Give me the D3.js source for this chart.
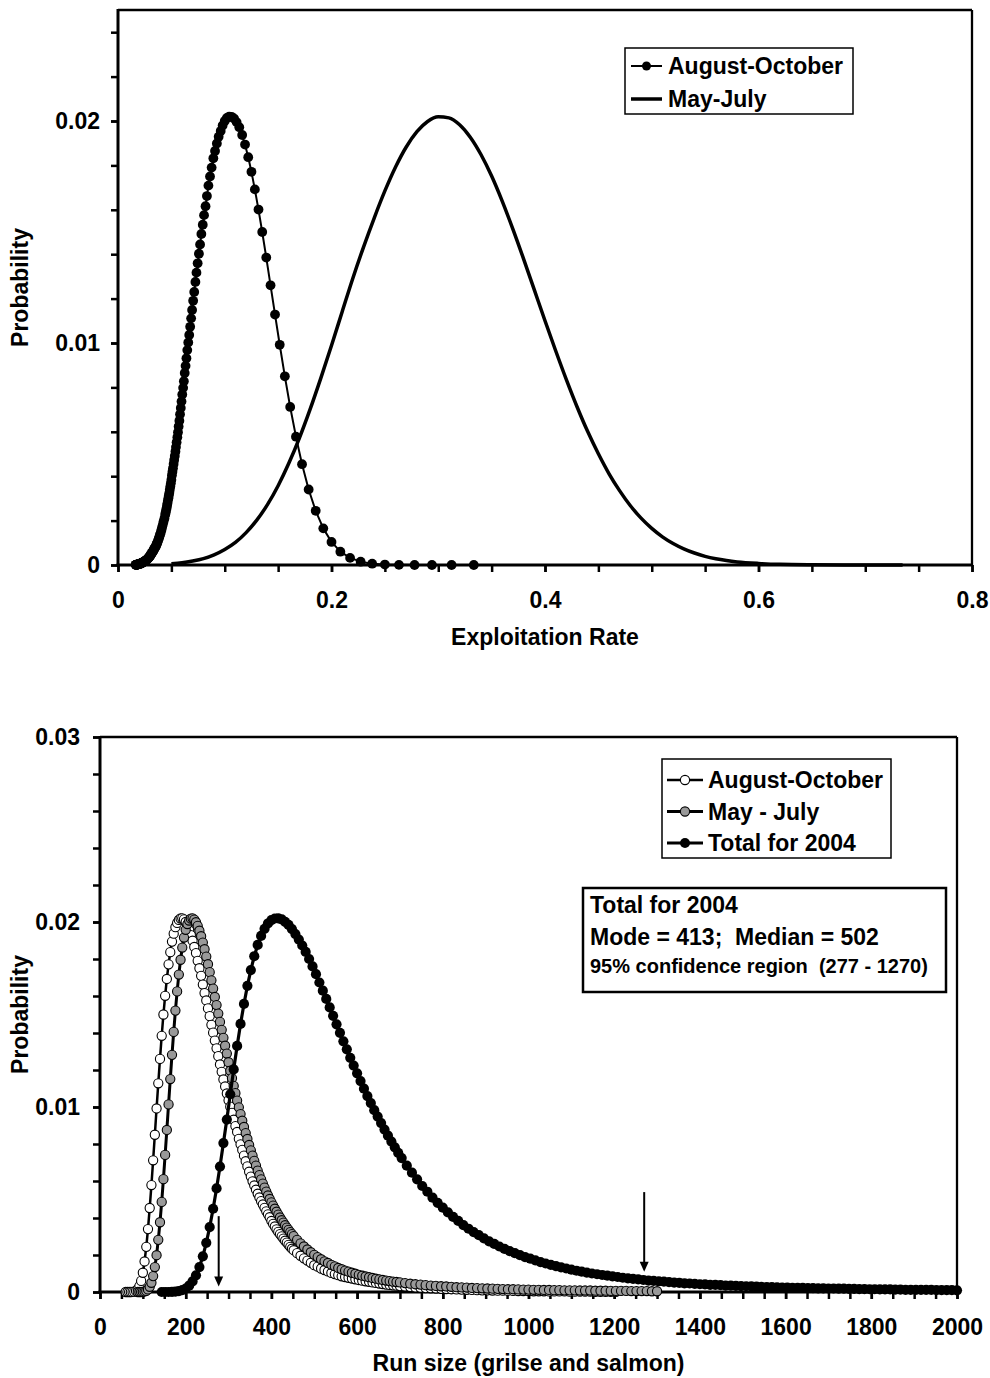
<!DOCTYPE html>
<html>
<head>
<meta charset="utf-8">
<title>Exploitation rate and run size</title>
<script src="https://cdn.jsdelivr.net/npm/d3@7"></script>
<style>
  body { margin: 0; background: #fff; }
  svg { display: block; }
  text { font-family: Arial, "Liberation Sans", Helvetica, sans-serif; font-weight: bold; fill: #000; white-space: pre; }
</style>
</head>
<body>
<svg class="charts" width="990" height="1378"></svg>
<script>
var svg = d3.select("svg.charts");

//////////// DATA ////////////

// run-size grids (the points sit on an even grid, coarser in the tail)
var aoRunSize = [].concat(d3.range(60, 453, 4), d3.range(460, 701, 8), d3.range(712, 1205, 12));
var mjRunSize = [].concat(d3.range(88, 453, 4), d3.range(460, 701, 8), d3.range(712, 1301, 12));
var totalRunSize = [].concat(d3.range(144, 705, 8), d3.range(716, 2001, 12));

// August-October probabilities (same values on both panels)
var aoProb = [
    0, 0, 0, 0, 0.000006, 0.00002, 0.00006, 0.00015, 0.00032, 0.0006,
    0.00104, 0.00165, 0.00244, 0.0034, 0.00454, 0.00578, 0.00712, 0.0085, 0.00992, 0.01128,
    0.0126, 0.01385, 0.015, 0.01601, 0.01692, 0.01771, 0.01837, 0.01894, 0.01937, 0.01972,
    0.01995, 0.02011, 0.02019, 0.0202, 0.02014, 0.02, 0.0198, 0.01955, 0.01929, 0.01899,
    0.01865, 0.01832, 0.0179, 0.0175, 0.01709, 0.01662, 0.01616, 0.01576, 0.01533, 0.01491,
    0.01444, 0.01402, 0.01359, 0.01317, 0.01275, 0.0123, 0.0119, 0.01149, 0.01111, 0.01073,
    0.01036, 0.01002, 0.00968, 0.00931, 0.00897, 0.00865, 0.00828, 0.00798, 0.00768, 0.00737,
    0.00707, 0.00679, 0.0065, 0.00624, 0.00598, 0.00576, 0.00553, 0.00531, 0.00511, 0.00491,
    0.00473, 0.00455, 0.00436, 0.0042, 0.00404, 0.00384, 0.00368, 0.00354, 0.00339, 0.00325,
    0.00313, 0.00301, 0.00289, 0.00277, 0.00267, 0.00255, 0.00244, 0.00234, 0.00226,
    0.0021, 0.00196, 0.00182, 0.0017, 0.00158, 0.00145, 0.00137, 0.00127, 0.00119, 0.00111,
    0.00103, 0.00097, 0.00091, 0.00085, 0.00081, 0.00077, 0.00073, 0.00069, 0.00065, 0.00061,
    0.00058, 0.00055, 0.00052, 0.00049, 0.00046, 0.00043, 0.0004, 0.00038, 0.00036, 0.00034,
    0.00032,
    0.0003, 0.00027, 0.00025, 0.00023, 0.00021, 0.0002, 0.00019, 0.00017, 0.00016, 0.00015,
    0.00014, 0.00013, 0.00012, 0.00011, 0.0001, 0.00009, 0.00009, 0.00008, 0.00007, 0.00007,
    0.00006, 0.00006, 0.00005, 0.00005, 0.00005, 0.00004, 0.00004, 0.00004, 0.00003, 0.00003,
    0.00003, 0.00003, 0.00002, 0.00002, 0.00002, 0.00002, 0.00002, 0.00001, 0.00001, 0.00001,
    0.00001, 0.00001
];

// August-October exploitation rate of each point (top panel x)
var aoRate = [
    0.3333, 0.3125, 0.2941, 0.2778, 0.2632, 0.25, 0.2381, 0.2273, 0.2174, 0.2083,
    0.2, 0.1923, 0.1852, 0.1786, 0.1724, 0.1667, 0.1613, 0.1563, 0.1515, 0.1471,
    0.1429, 0.1389, 0.1351, 0.1316, 0.1282, 0.125, 0.122, 0.119, 0.1163, 0.1136,
    0.1111, 0.1087, 0.1064, 0.1042, 0.102, 0.1, 0.098, 0.0962, 0.0943, 0.0926,
    0.0909, 0.0893, 0.0877, 0.0862, 0.0847, 0.0833, 0.082, 0.0806, 0.0794, 0.0781,
    0.0769, 0.0758, 0.0746, 0.0735, 0.0725, 0.0714, 0.0704, 0.0694, 0.0685, 0.0676,
    0.0667, 0.0658, 0.0649, 0.0641, 0.0633, 0.0625, 0.0617, 0.061, 0.0602, 0.0595,
    0.0588, 0.0581, 0.0575, 0.0568, 0.0562, 0.0556, 0.0549, 0.0543, 0.0538, 0.0532,
    0.0526, 0.0521, 0.0515, 0.051, 0.0505, 0.05, 0.0495, 0.049, 0.0485, 0.0481,
    0.0476, 0.0472, 0.0467, 0.0463, 0.0459, 0.0455, 0.045, 0.0446, 0.0442,
    0.0435, 0.0427, 0.042, 0.0413, 0.0407, 0.04, 0.0394, 0.0388, 0.0382, 0.0376,
    0.037, 0.0365, 0.036, 0.0355, 0.035, 0.0345, 0.034, 0.0336, 0.0331, 0.0327,
    0.0323, 0.0318, 0.0314, 0.0311, 0.0307, 0.0303, 0.0299, 0.0296, 0.0292, 0.0289,
    0.0286,
    0.0281, 0.0276, 0.0272, 0.0267, 0.0263, 0.0259, 0.0255, 0.0251, 0.0248, 0.0244,
    0.024, 0.0237, 0.0234, 0.023, 0.0227, 0.0224, 0.0221, 0.0218, 0.0216, 0.0213,
    0.021, 0.0207, 0.0205, 0.0202, 0.02, 0.0198, 0.0195, 0.0193, 0.0191, 0.0189,
    0.0187, 0.0185, 0.0182, 0.0181, 0.0179, 0.0177, 0.0175, 0.0173, 0.0171, 0.0169,
    0.0168, 0.0166
];

// May-July run size probabilities
var mjProb = [
    0, 0, 0, 0.00001, 0.00003, 0.00006, 0.00014, 0.00028, 0.0005, 0.00086,
    0.00135, 0.00199, 0.00282, 0.00377, 0.00487, 0.0061, 0.00741, 0.00876, 0.01014, 0.01151,
    0.01282, 0.01406, 0.01521, 0.01625, 0.01716, 0.01796, 0.01862, 0.01916, 0.01958, 0.01989,
    0.02008, 0.02018, 0.0202, 0.02013, 0.01999, 0.01979, 0.01953, 0.01923, 0.01889, 0.01853,
    0.01813, 0.01772, 0.01729, 0.01685, 0.0164, 0.01595, 0.01551, 0.01505, 0.0146, 0.01417,
    0.01374, 0.01331, 0.01289, 0.01242, 0.01196, 0.01156, 0.01114, 0.01075, 0.01035, 0.00998,
    0.00962, 0.00926, 0.00892, 0.00859, 0.00827, 0.00795, 0.00766, 0.00737, 0.00709, 0.00683,
    0.00656, 0.00632, 0.00609, 0.00586, 0.00564, 0.00543, 0.00522, 0.00503, 0.00485, 0.00467,
    0.0045, 0.00434, 0.00418, 0.00403, 0.00388, 0.00375, 0.00361, 0.00348, 0.00336, 0.00324,
    0.00313, 0.00302,
    0.00282, 0.00263, 0.00246, 0.0023, 0.00215, 0.00201, 0.00189, 0.00177, 0.00166, 0.00157,
    0.00147, 0.00139, 0.0013, 0.00123, 0.00116, 0.0011, 0.00104, 0.00099, 0.00093, 0.00088,
    0.00084, 0.0008, 0.00076, 0.00072, 0.00068, 0.00065, 0.00062, 0.00059, 0.00056, 0.00054,
    0.00052,
    0.00048, 0.00045, 0.00042, 0.0004, 0.00037, 0.00035, 0.00033, 0.00031, 0.0003, 0.00028,
    0.00026, 0.00025, 0.00024, 0.00022, 0.00021, 0.0002, 0.00019, 0.00018, 0.00017, 0.00016,
    0.00015, 0.00015, 0.00014, 0.00013, 0.00013, 0.00012, 0.00012, 0.00011, 0.00011, 0.0001,
    0.0001, 0.00009, 0.00009, 0.00009, 0.00008, 0.00008, 0.00008, 0.00007, 0.00007, 0.00007,
    0.00006, 0.00006, 0.00006, 0.00006, 0.00005, 0.00005, 0.00005, 0.00005, 0.00004, 0.00004
];

// Total for 2004
var totalProb = [
    0, 0, 0, 0.00001, 0.00002, 0.00005, 0.0001, 0.00019, 0.00034, 0.00057,
    0.0009, 0.00135, 0.00193, 0.00266, 0.00351, 0.0045, 0.0056, 0.00678, 0.00805, 0.00932,
    0.01069, 0.01203, 0.0133, 0.01449, 0.01557, 0.01655, 0.0174, 0.01815, 0.01876, 0.01925,
    0.01963, 0.01992, 0.0201, 0.02019, 0.0202, 0.02014, 0.02001, 0.01984, 0.01961, 0.01935,
    0.01905, 0.01873, 0.01838, 0.018, 0.0176, 0.01718, 0.01673, 0.01629, 0.01584, 0.01538,
    0.01493, 0.01447, 0.01401, 0.01355, 0.01312, 0.01266, 0.01224, 0.01182, 0.0114, 0.01099,
    0.01059, 0.01021, 0.00983, 0.00948, 0.00913, 0.00878, 0.00845, 0.00813, 0.00782, 0.00752,
    0.00724,
    0.00683, 0.00645, 0.00609, 0.00573, 0.00542, 0.0051, 0.00482, 0.00456, 0.0043, 0.00406,
    0.00384, 0.00362, 0.00342, 0.00324, 0.00307, 0.0029, 0.00274, 0.0026, 0.00246, 0.00233,
    0.00221, 0.0021, 0.00199, 0.00189, 0.0018, 0.00171, 0.00162, 0.00154, 0.00147, 0.0014,
    0.00133, 0.00127, 0.00121, 0.00115, 0.0011, 0.00105, 0.001, 0.00096, 0.00092, 0.00088,
    0.00084, 0.00081, 0.00077, 0.00074, 0.00071, 0.00068, 0.00065, 0.00062, 0.0006, 0.00058,
    0.00056, 0.00053, 0.00051, 0.00049, 0.00047, 0.00046, 0.00044, 0.00042, 0.00041, 0.00039,
    0.00038, 0.00037, 0.00035, 0.00034, 0.00033, 0.00032, 0.00031, 0.0003, 0.00029, 0.00028,
    0.00027, 0.00026, 0.00025, 0.00024, 0.00024, 0.00023, 0.00022, 0.00022, 0.00021, 0.00021,
    0.0002, 0.0002, 0.00019, 0.00019, 0.00018, 0.00018, 0.00017, 0.00017, 0.00016, 0.00016,
    0.00015, 0.00015, 0.00014, 0.00014, 0.00014, 0.00013, 0.00013, 0.00012, 0.00012, 0.00012,
    0.00011, 0.00011, 0.00011, 0.0001, 0.0001, 0.0001, 0.0001, 0.00009
];

// May-July exploitation rate curve (top panel, line only)
var mjRate = [0.05, 0.06, 0.07, 0.08, 0.09, 0.10, 0.11, 0.12, 0.13, 0.14, 0.15, 0.16, 0.17, 0.18,
    0.19, 0.20, 0.21, 0.22, 0.23, 0.24, 0.25, 0.26, 0.27, 0.28, 0.29, 0.30, 0.31, 0.32, 0.33, 0.34,
    0.35, 0.36, 0.37, 0.38, 0.39, 0.40, 0.41, 0.42, 0.43, 0.44, 0.45, 0.46, 0.47, 0.48, 0.49, 0.50,
    0.51, 0.52, 0.53, 0.54, 0.55, 0.56, 0.57, 0.58, 0.60, 0.62, 0.65, 0.70, 0.735];
var mjRateProb = [0.00006, 0.0001, 0.00018, 0.00029, 0.00046, 0.0007, 0.00102, 0.00146, 0.00202,
    0.00272, 0.00357, 0.00458, 0.00573, 0.00702, 0.00842, 0.00989, 0.01141, 0.01292, 0.01432,
    0.01563, 0.01685, 0.01793, 0.01883, 0.01952, 0.01998, 0.02019, 0.02014, 0.01983, 0.01927,
    0.01849, 0.01752, 0.01638, 0.01512, 0.01378, 0.01239, 0.011, 0.00965, 0.00835, 0.00713,
    0.00601, 0.00501, 0.00411, 0.00334, 0.00267, 0.00211, 0.00165, 0.00127, 0.00097, 0.00073,
    0.00054, 0.00039, 0.00028, 0.0002, 0.00014, 0.00007, 0.00003, 0.00001, 0, 0];

// 95% confidence limits marked by arrows
var ciArrows = [
    { run: 277, from: 0.0041, to: 0.0003 },
    { run: 1270, from: 0.0054, to: 0.0011 }
];

// tick labels
var topXLabels = [0, 0.2, 0.4, 0.6, 0.8];
var topYLabels = [0, 0.01, 0.02];
var botXLabels = [0, 200, 400, 600, 800, 1000, 1200, 1400, 1600, 1800, 2000];
var botYLabels = [0, 0.01, 0.02, 0.03];

var annotLines = ["Total for 2004", "Mode = 413;  Median = 502", "95% confidence region  (277 - 1270)"];


//////////// SCALES ////////////

var topBox = { left: 118, right: 972, top: 10, bottom: 565 };
var botBox = { left: 100, right: 957, top: 737, bottom: 1292 };

var xTop = d3.scaleLinear().domain([0, 0.8]).range([topBox.left, topBox.right]);
var yTop = d3.scaleLinear().domain([0, 0.025]).range([topBox.bottom, topBox.top]);
var xBot = d3.scaleLinear().domain([0, 2000]).range([botBox.left, botBox.right]);
var yBot = d3.scaleLinear().domain([0, 0.03]).range([botBox.bottom, botBox.top]);

function zip(xs, ys) {
    var n = Math.min(xs.length, ys.length);
    if (xs.length != ys.length) console.warn("length mismatch", xs.length, ys.length);
    return d3.range(n).map((i) => ({ x: xs[i], y: ys[i] }));
}


//////////// AXES ////////////

function drawAxes(box, x, y, o) {
    var g = svg.append("g").attr("class", "axes");

    g.append("g").attr("transform", `translate(0,${box.bottom})`)
        .call(d3.axisBottom(x).tickValues(o.xMinor).tickSize(7).tickFormat(""));
    g.append("g").attr("transform", `translate(0,${box.bottom})`)
        .call(d3.axisBottom(x).tickValues(o.xLabels).tickSize(7).tickPadding(20).tickFormat((d) => String(d)));
    g.append("g").attr("transform", `translate(${box.left},0)`)
        .call(d3.axisLeft(y).tickValues(o.yMinor).tickSize(7).tickFormat(""));
    g.append("g").attr("transform", `translate(${box.left},0)`)
        .call(d3.axisLeft(y).tickValues(o.yLabels).tickSize(7).tickPadding(o.yPad).tickFormat((d) => String(d)));

    g.selectAll(".domain").remove();
    g.selectAll(".tick line").attr("stroke", "#000").attr("stroke-width", 2.5);
    g.selectAll(".tick text").style("font-size", "23px");

    // frame: thin top / right, heavier axes
    g.append("line").attr("x1", box.left).attr("x2", box.right).attr("y1", box.top).attr("y2", box.top)
        .attr("stroke", "#000").attr("stroke-width", 2.3);
    g.append("line").attr("x1", box.right).attr("x2", box.right).attr("y1", box.top).attr("y2", box.bottom)
        .attr("stroke", "#000").attr("stroke-width", 2.3);
    g.append("line").attr("x1", box.left).attr("x2", box.left).attr("y1", box.top - 1).attr("y2", box.bottom + 1.5)
        .attr("stroke", "#000").attr("stroke-width", 3);
    g.append("line").attr("x1", box.left - 1.5).attr("x2", box.right + 1).attr("y1", box.bottom).attr("y2", box.bottom)
        .attr("stroke", "#000").attr("stroke-width", 3);

    // titles
    svg.append("text")
        .attr("transform", `translate(28,${(box.top + box.bottom) / 2}) rotate(-90)`)
        .attr("text-anchor", "middle")
        .style("font-size", "23px")
        .text(o.yTitle);
    svg.append("text")
        .attr("x", (box.left + box.right) / 2)
        .attr("y", o.xTitleY)
        .attr("text-anchor", "middle")
        .style("font-size", "23px")
        .text(o.xTitle);
}


//////////// SERIES ////////////

function drawSeries(x, y, pts, o) {
    var g = svg.append("g").attr("class", o.cls);
    g.append("path")
        .datum(pts)
        .attr("fill", "none")
        .attr("stroke", "#000")
        .attr("stroke-width", o.lineWidth)
        .attr("stroke-linejoin", "round")
        .attr("d", d3.line().x((d) => x(d.x)).y((d) => y(d.y)).curve(o.curve || d3.curveLinear));
    if (o.r) {
        g.selectAll("circle")
            .data(pts)
            .enter().append("circle")
            .attr("cx", (d) => x(d.x))
            .attr("cy", (d) => y(d.y))
            .attr("r", o.r)
            .attr("fill", o.fill)
            .attr("stroke", "#000")
            .attr("stroke-width", o.dotStroke || 0);
    }
}

function drawLegend(box, rows, o) {
    var g = svg.append("g").attr("class", "legend");
    g.append("rect")
        .attr("x", box.x).attr("y", box.y).attr("width", box.w).attr("height", box.h)
        .attr("fill", "#fff").attr("stroke", "#000").attr("stroke-width", 1.5);
    rows.forEach(function (r, i) {
        var base = o.firstBaseline + i * o.rowStep;
        var cy = base - 8;
        g.append("line")
            .attr("x1", o.lineX1).attr("x2", o.lineX2).attr("y1", cy).attr("y2", cy)
            .attr("stroke", "#000").attr("stroke-width", r.lineWidth);
        if (r.r) {
            g.append("circle")
                .attr("cx", (o.lineX1 + o.lineX2) / 2).attr("cy", cy).attr("r", r.r)
                .attr("fill", r.fill).attr("stroke", "#000").attr("stroke-width", r.dotStroke || 0);
        }
        g.append("text").attr("x", o.textX).attr("y", base).style("font-size", "23px").text(r.label);
    });
}


//////////// TOP PANEL ////////////

drawAxes(topBox, xTop, yTop, {
    xMinor: d3.range(0, 0.8001, 0.05),
    xLabels: topXLabels,
    yMinor: d3.range(0, 0.0241, 0.002),
    yLabels: topYLabels,
    yPad: 11,
    yTitle: "Probability",
    xTitle: "Exploitation Rate",
    xTitleY: 645
});

drawSeries(xTop, yTop, zip(aoRate, aoProb), { cls: "ao-rate", lineWidth: 2, r: 4.9, fill: "#000" });
drawSeries(xTop, yTop, zip(mjRate, mjRateProb), { cls: "mj-rate", lineWidth: 3.5, curve: d3.curveMonotoneX });

drawLegend({ x: 625, y: 48, w: 228, h: 66 }, [
    { label: "August-October", lineWidth: 2, r: 4.5, fill: "#000" },
    { label: "May-July", lineWidth: 3.5 }
], { firstBaseline: 74, rowStep: 33, lineX1: 631, lineX2: 662, textX: 668 });


//////////// BOTTOM PANEL ////////////

drawAxes(botBox, xBot, yBot, {
    xMinor: d3.range(0, 2001, 50),
    xLabels: botXLabels,
    yMinor: d3.range(0, 0.0301, 0.002),
    yLabels: botYLabels,
    yPad: 13,
    yTitle: "Probability",
    xTitle: "Run size (grilse and salmon)",
    xTitleY: 1371
});

drawSeries(xBot, yBot, zip(aoRunSize, aoProb), { cls: "ao-run", lineWidth: 2.5, r: 4.6, fill: "#fff", dotStroke: 1.1 });
drawSeries(xBot, yBot, zip(mjRunSize, mjProb), { cls: "mj-run", lineWidth: 3, r: 4.6, fill: "#999", dotStroke: 1.1 });
drawSeries(xBot, yBot, zip(totalRunSize, totalProb), { cls: "total-run", lineWidth: 3.2, r: 5.1, fill: "#000" });

// arrows at the confidence limits
var arrowG = svg.append("g").attr("class", "arrows");
ciArrows.forEach(function (a) {
    var ax = xBot(a.run), y0 = yBot(a.from), y1 = yBot(a.to);
    arrowG.append("line").attr("x1", ax).attr("x2", ax).attr("y1", y0).attr("y2", y1 - 6)
        .attr("stroke", "#000").attr("stroke-width", 2);
    arrowG.append("path")
        .attr("d", `M${ax - 4.5},${y1 - 10} L${ax + 4.5},${y1 - 10} L${ax},${y1} Z`)
        .attr("fill", "#000");
});

drawLegend({ x: 662, y: 759, w: 229, h: 99 }, [
    { label: "August-October", lineWidth: 2.5, r: 4.6, fill: "#fff", dotStroke: 1.1 },
    { label: "May - July", lineWidth: 3, r: 4.6, fill: "#999", dotStroke: 1.1 },
    { label: "Total for 2004", lineWidth: 3.2, r: 5, fill: "#000" }
], { firstBaseline: 788, rowStep: 31.5, lineX1: 667, lineX2: 703, textX: 708 });

// summary box
var annot = svg.append("g").attr("class", "annotation");
annot.append("rect")
    .attr("x", 583).attr("y", 888).attr("width", 363).attr("height", 104)
    .attr("fill", "#fff").attr("stroke", "#000").attr("stroke-width", 2.5);
annot.selectAll("text")
    .data(annotLines)
    .enter().append("text")
    .attr("x", 590)
    .attr("y", (d, i) => [913, 945, 973][i])
    .attr("xml:space", "preserve")
    .style("font-size", (d, i) => i == 2 ? "20px" : "23px")
    .text((d) => d);
</script>
</body>
</html>
